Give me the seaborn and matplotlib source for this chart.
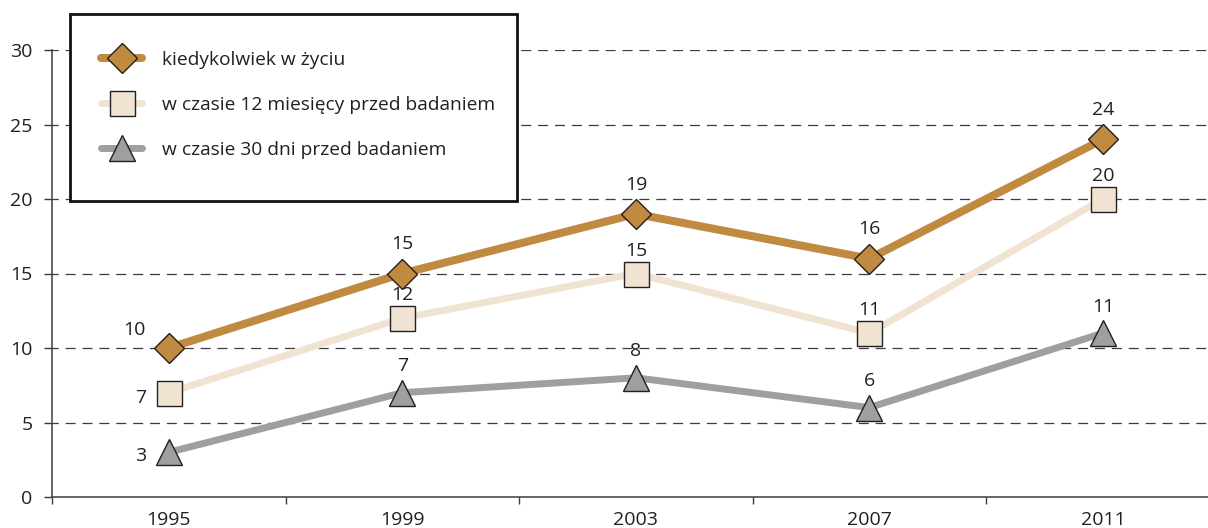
import numpy as np
import pandas as pd
import matplotlib
matplotlib.use("Agg")
import matplotlib.pyplot as plt
from matplotlib.patches import Rectangle
import seaborn as sns

# Survey years and prevalence (%) for three time windows
years = ["1995", "1999", "2003", "2007", "2011"]
lifetime = [10, 15, 19, 16, 24]
last_12_months = [7, 12, 15, 11, 20]
last_30_days = [3, 7, 8, 6, 11]

series_names = [
    "kiedykolwiek w życiu",
    "w czasie 12 miesięcy przed badaniem",
    "w czasie 30 dni przed badaniem",
]
y_ticks = [0, 5, 10, 15, 20, 25, 30]

sns.set_theme(style="white")
plt.rcParams["font.family"] = ["Open Sans", "DejaVu Sans"]

TEXT = "#231F20"
EDGE = "#231F20"
FS = 14

W, H = 1208, 528
fig = plt.figure(figsize=(W / 100, H / 100), dpi=100)
ax = fig.add_axes([52 / W, 31 / H, 1156 / W, 447 / H])

pos = np.arange(len(years))
frames = []
for name, vals in zip(series_names, [lifetime, last_12_months, last_30_days]):
    frames.append(pd.DataFrame({"pos": pos, "value": vals, "series": name}))
df = pd.concat(frames, ignore_index=True)

styles = {
    series_names[0]: dict(color="#C08A40", marker="D", ms=15.0, lw=5.8),
    series_names[1]: dict(color="#F0E3D2", marker="s", ms=18.0, lw=5.0),
    series_names[2]: dict(color="#9E9FA1", marker="^", ms=19.0, lw=5.0),
}

for name in series_names:
    st = styles[name]
    sub = df[df["series"] == name]
    sns.lineplot(
        data=sub, x="pos", y="value", ax=ax, label=name,
        color=st["color"], marker=st["marker"], markersize=st["ms"],
        linewidth=st["lw"], markerfacecolor=st["color"],
        markeredgecolor=EDGE, markeredgewidth=1.0,
        solid_capstyle="round", zorder=3,
    )

# Value labels: the first year sits to the left, the rest above the markers
label_font = dict(fontsize=FS, color=TEXT)
first_offsets = [(-25, 13), (-20, -4), (-20, -3)]
above_offsets = [21, 16.5, 19]
for name, vals, off0, up in zip(series_names,
                                [lifetime, last_12_months, last_30_days],
                                first_offsets, above_offsets):
    for i, v in enumerate(vals):
        off = off0 if i == 0 else (0, up)
        ax.annotate(str(v), (pos[i], v), xytext=off, textcoords="offset points",
                    ha="center", va="center", **label_font)

ax.set_ylim(0, 30)
ax.set_xlim(-0.5, 4.45)
ax.set_yticks(y_ticks)
ax.set_yticklabels([str(t) for t in y_ticks])
ax.set_xticks(pos)
ax.set_xticklabels(years)
ax.set_xticks(np.arange(-0.5, len(years) - 0.5, 1.0), minor=True)
ax.set_xlabel("")
ax.set_ylabel("")

for y in y_ticks[1:]:
    ax.axhline(y, color="#3C3C3C", lw=0.9, linestyle=(3, (8, 5.5)), zorder=1)

for s in ["top", "right"]:
    ax.spines[s].set_visible(False)
for s in ["left", "bottom"]:
    ax.spines[s].set_color("#3C3C3C")
    ax.spines[s].set_linewidth(1.1)

ax.tick_params(axis="y", which="major", left=True, length=6, width=1.0,
               color="#3C3C3C", pad=8, labelsize=FS, labelcolor=TEXT)
ax.tick_params(axis="x", which="major", bottom=False, length=0, pad=10,
               labelsize=FS, labelcolor=TEXT)
ax.tick_params(axis="x", which="minor", bottom=True, length=5, width=1.0,
               color="#3C3C3C")
ax.grid(False)

# Legend box drawn as a framed rectangle, entries placed inside it
box = Rectangle((70 / W, 1 - 201 / H), (517 - 70) / W, (201 - 14) / H,
                transform=fig.transFigure, facecolor="white",
                edgecolor="#111111", linewidth=2.0, zorder=4, clip_on=False)
ax.add_artist(box)

leg = ax.legend(
    loc="upper left", bbox_to_anchor=(101 / W, 1 - 51 / H),
    bbox_transform=fig.transFigure, borderaxespad=0, borderpad=0,
    frameon=False, fontsize=13.8, labelspacing=1.4,
    handlelength=2.15, handletextpad=1.05, labelcolor=TEXT,
)
leg.set_zorder(5)

fig.savefig("out.png", dpi=100)
